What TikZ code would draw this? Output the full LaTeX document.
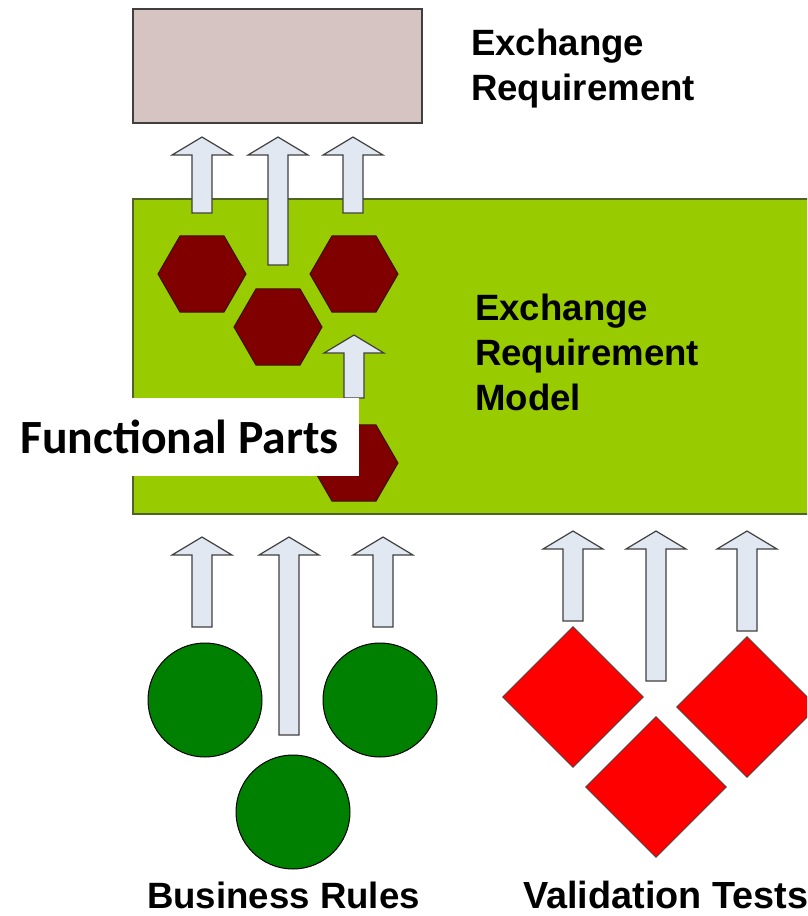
\documentclass[tikz,border=0pt]{standalone}
\usepackage{fontspec}
\setmainfont{Liberation Sans}
\newfontfamily\calibri{Carlito}
\usetikzlibrary{shapes}

\definecolor{ertop}{HTML}{D6C4C2}
\definecolor{ermgreen}{HTML}{99CC00}
\definecolor{ermline}{HTML}{4F6228}
\definecolor{boxline}{HTML}{404040}
\definecolor{hexred}{HTML}{800000}
\definecolor{hexline}{HTML}{3A1010}
\definecolor{ballgreen}{HTML}{008000}
\definecolor{gemred}{HTML}{FF0000}
\definecolor{arrfill}{HTML}{E1E8F2}
\definecolor{arrline}{HTML}{404040}

% block arrow pointing up: x, bottom y, tip y
\newcommand{\blockup}[3]{%
  \draw[arr] (#1-10,#2) -- (#1-10,#3+18) -- (#1-30,#3+18) -- (#1,#3)
    -- (#1+30,#3+18) -- (#1+10,#3+18) -- (#1+10,#2) -- cycle;}

\begin{document}
\begin{tikzpicture}[x=1pt,y=-1pt]
\tikzstyle{big}=[font=\fontsize{36.6}{45}\selectfont\bfseries];
\tikzstyle{txt}=[big,align=left,anchor=north west,inner sep=0pt];
\tikzstyle{hex}=[regular polygon,regular polygon sides=6,minimum size=88pt,inner sep=0pt,fill=hexred,draw=hexline,line width=1pt];
\tikzstyle{ball}=[circle,minimum size=114pt,inner sep=0pt,fill=ballgreen,draw=black,line width=1pt];
\tikzstyle{gem}=[diamond,minimum width=141pt,minimum height=141pt,inner sep=0pt,fill=gemred,draw=boxline,line width=0.8pt];
\tikzstyle{arr}=[fill=arrfill,draw=arrline,line width=1.2pt];

\useasboundingbox (0,0) rectangle (807,916);
\clip (0,0) rectangle (807,916);
\fill[white] (0,0) rectangle (807,916);

% exchange requirement
\node (er) [draw=boxline,fill=ertop,line width=1.5pt,minimum width=289pt,minimum height=114pt,inner sep=0pt] at (277.5,66) {};
\node[txt] (ertxt) at (471,29) {Exchange\\Requirement};

% model
\node (erm) [draw=ermline,fill=ermgreen,line width=1.5pt,minimum width=700pt,minimum height=315pt,inner sep=0pt] at (483,356.5) {};
\node[txt] (ermtxt) at (475,294) {Exchange\\Requirement\\Model};

\node[hex] (h1) at (202,274) {};
\node[hex] (h2) at (278,327) {};
\node[hex] (h3) at (354,274) {};
\node[hex] (h4) at (354,463) {};
\blockup{202}{213}{137}
\blockup{278}{265}{137}
\blockup{353}{213}{137}
\blockup{354}{398}{335}

\node (fp) [fill=white,minimum width=359pt,minimum height=78pt,inner sep=0pt,font=\calibri\fontsize{47.7}{50}\selectfont\bfseries] at (179.5,437) {Functional Parts};

% business rules
\node[ball] (b1) at (205,700) {};
\node[ball] (b2) at (380,700) {};
\node[ball] (b3) at (293,812) {};
\blockup{202}{627}{537}
\blockup{289}{735}{537}
\blockup{383}{627}{537}
\node[big,anchor=base west,inner sep=0pt] (brtxt) at (147,908) {Business Rules};

% validation tests
\node[gem] (g1) at (573,697) {};
\node[gem] (g2) at (656,787) {};
\node[gem] (g3) at (747,707) {};
\blockup{573}{621}{531}
\blockup{656}{681}{531}
\blockup{747}{631}{531}
\node[big,font=\fontsize{37.8}{45}\selectfont\bfseries,anchor=base west,inner sep=0pt] (vttxt) at (523,908) {Validation Tests};
\end{tikzpicture}
\end{document}
